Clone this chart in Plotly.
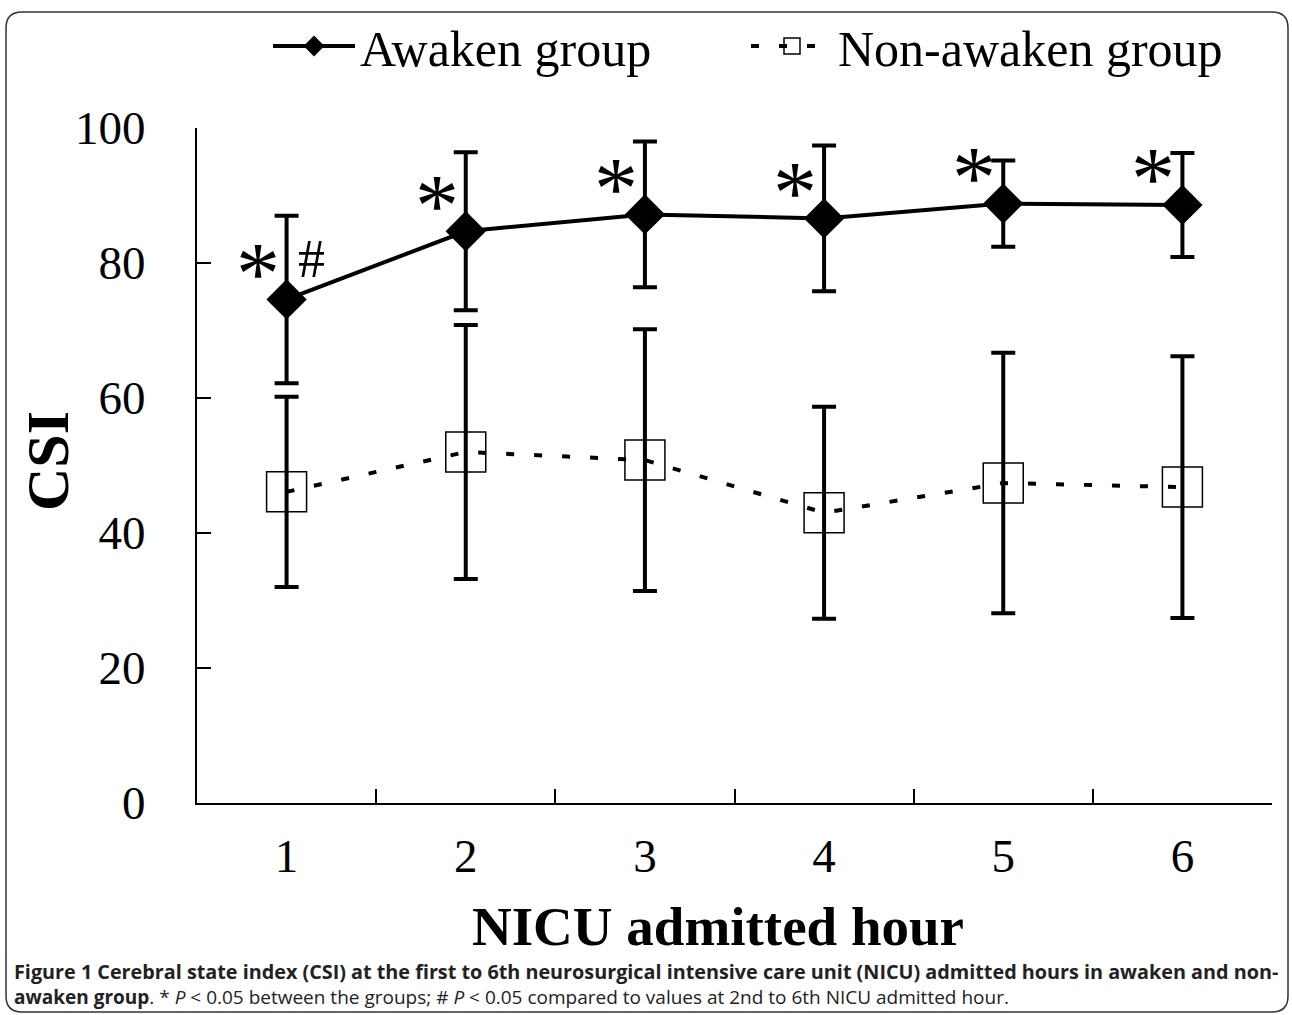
import plotly.graph_objects as go

# ---- data ----
hours = ["1", "2", "3", "4", "5", "6"]
awaken_mean = [74.6, 84.7, 87.2, 86.6, 88.8, 88.6]
awaken_sd = [12.4, 11.7, 10.8, 10.8, 6.4, 7.7]
nonawaken_mean = [46.1, 52.0, 50.8, 43.0, 47.4, 46.8]
nonawaken_sd = [14.1, 18.8, 19.4, 15.7, 19.3, 19.4]
y_ticks = [0, 20, 40, 60, 80, 100]
star_marks = ["*", "*", "*", "*", "*", "*"]
hash_marks = ["#", "", "", "", "", ""]

W, H = 1292, 1015
L, R, T, B = 197, 1272, 128, 803


def px(x):
    return (x - L) / (R - L)


def py(y):
    return (B - y) / (B - T)


SERIF = "Liberation Serif, Times New Roman, serif"
SANS = "Open Sans, Noto Sans, sans-serif"

fig = go.Figure()

fig.add_trace(go.Scatter(
    x=hours, y=nonawaken_mean, name="Non-awaken group", mode="lines+markers",
    line=dict(color="black", width=4, dash="8px,20px"),
    marker=dict(symbol="square-open", size=40, color="black", line=dict(width=1.5, color="black")),
    error_y=dict(type="data", array=nonawaken_sd, visible=True, color="black", thickness=4, width=12),
))
fig.add_trace(go.Scatter(
    x=hours, y=awaken_mean, name="Awaken group", mode="lines+markers",
    line=dict(color="black", width=4),
    marker=dict(symbol="diamond", size=31, color="black"),
    error_y=dict(type="data", array=awaken_sd, visible=True, color="black", thickness=4, width=12),
))

annotations = []
for i, (m, s) in enumerate(zip(awaken_mean, star_marks)):
    if s:
        annotations.append(dict(x=i, y=m, xref="x", yref="y", text=s, showarrow=False,
                                xanchor="center", yanchor="middle",
                                xshift=-29, yshift=26, font=dict(family=SERIF, size=88, color="black")))
for i, (m, s) in enumerate(zip(awaken_mean, hash_marks)):
    if s:
        annotations.append(dict(x=i, y=m, xref="x", yref="y", text=s, showarrow=False,
                                xanchor="center", yanchor="middle",
                                xshift=25, yshift=40, font=dict(family=SERIF, size=54, color="black")))

# axis titles
annotations.append(dict(x=px(48), y=py(461), xref="paper", yref="paper", text="<b>CSI</b>",
                        textangle=-90, showarrow=False, xanchor="center", yanchor="middle",
                        font=dict(family=SERIF, size=60, color="black")))
annotations.append(dict(x=px(718), y=py(926), xref="paper", yref="paper", text="<b>NICU admitted hour</b>",
                        showarrow=False, xanchor="center", yanchor="middle",
                        font=dict(family=SERIF, size=55, color="black")))

# caption
annotations.append(dict(
    x=px(12), y=py(984), xref="paper", yref="paper", xanchor="left", yanchor="middle",
    showarrow=False, align="left",
    text=("<span style='font-size:19.8px'><b>Figure 1 Cerebral state index (CSI) at the first to 6th "
          "neurosurgical intensive care unit (NICU) admitted hours in awaken and non-</b></span><br>"
          "<b>awaken group</b>. * <i>P</i> &lt; 0.05 between the groups; # <i>P</i> &lt; 0.05 "
          "compared to values at 2nd to 6th NICU admitted hour."),
    font=dict(family=SANS, size=19, color="#222222")))

# rounded border
x0, y0, x1, y1, r = px(6), py(12), px(1288), py(1012), 16
rx, ry = r / (R - L), r / (B - T)
border = (f"M {x0+rx},{y0} L {x1-rx},{y0} Q {x1},{y0} {x1},{y0-ry} "
          f"L {x1},{y1+ry} Q {x1},{y1} {x1-rx},{y1} L {x0+rx},{y1} "
          f"Q {x0},{y1} {x0},{y1+ry} L {x0},{y0-ry} Q {x0},{y0} {x0+rx},{y0} Z")

fig.update_layout(
    width=W, height=H,
    margin=dict(l=L, r=W - R, t=T, b=H - B, pad=0, autoexpand=False),
    paper_bgcolor="white", plot_bgcolor="white",
    font=dict(family=SERIF, color="black"),
    showlegend=True,
    legend=dict(orientation="h", x=px(268), y=py(46), xanchor="left", yanchor="middle",
                font=dict(family=SERIF, size=50, color="black"), traceorder="reversed",
                entrywidth=381, entrywidthmode="pixels", itemwidth=82, bgcolor="rgba(0,0,0,0)",
                itemsizing="trace"),
    xaxis=dict(type="category", range=[-0.5, 5.5], showline=True, linecolor="black", linewidth=2,
               ticks="inside", ticklen=14, tickwidth=2, tickcolor="black", tickson="boundaries",
               showgrid=False, zeroline=False, ticklabelstandoff=11,
               tickfont=dict(family=SERIF, size=47, color="black")),
    yaxis=dict(range=[0, 100], tickvals=y_ticks, showline=True, linecolor="black", linewidth=2,
               ticks="inside", ticklen=14, tickwidth=2, tickcolor="black",
               showgrid=False, zeroline=False, ticklabelstandoff=40,
               tickfont=dict(family=SERIF, size=47, color="black")),
    annotations=annotations,
    shapes=[dict(type="path", path=border, xref="paper", yref="paper",
                 line=dict(color="#333333", width=1.5), fillcolor="rgba(0,0,0,0)", layer="below")],
)

fig.write_html("out.html", config={"displayModeBar": False},
               post_script="document.body.style.margin='0';document.body.style.overflow='hidden';")
